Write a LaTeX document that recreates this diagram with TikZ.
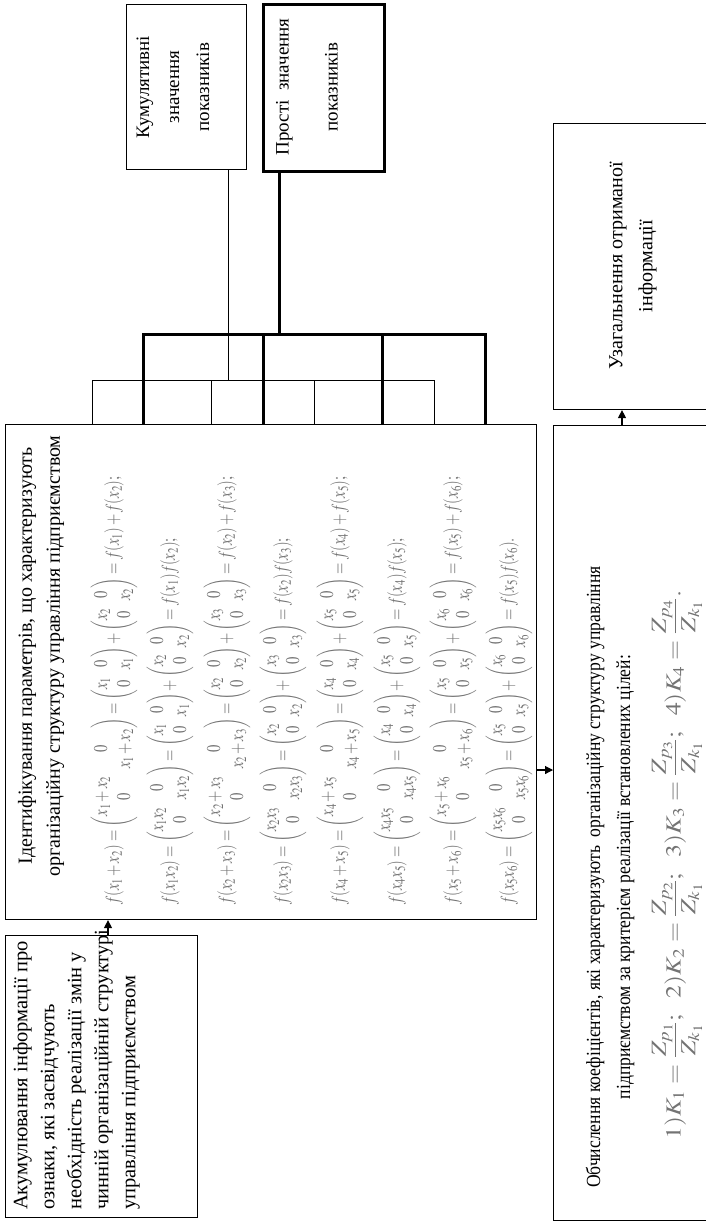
\documentclass[tikz,border=0pt]{standalone}
\usepackage{amsmath}
\usepackage{mathptmx}
\usepackage{fontspec}
\setmainfont{Liberation Serif}
\newfontfamily\tnr{Liberation Serif}
\newfontfamily\condfont[FakeStretch=0.88]{Liberation Serif}
\usetikzlibrary{arrows.meta}
\newcommand\fsz[2]{\fontsize{#1}{#2}\selectfont}
\newcommand\sumrow[3]{\scalebox{0.75}[1]{$f(x_{#1}+x_{#2})=\begin{pmatrix}x_{#1}+x_{#2}&0\\0&x_{#1}+x_{#2}\end{pmatrix}=\begin{pmatrix}x_{#1}&0\\0&x_{#1}\end{pmatrix}+\begin{pmatrix}x_{#2}&0\\0&x_{#2}\end{pmatrix}=f(x_{#1})+f(x_{#2})#3$}}
\newcommand\prodrow[3]{\scalebox{0.75}[1]{$f(x_{#1}x_{#2})=\begin{pmatrix}x_{#1}x_{#2}&0\\0&x_{#1}x_{#2}\end{pmatrix}=\begin{pmatrix}x_{#1}&0\\0&x_{#1}\end{pmatrix}+\begin{pmatrix}x_{#2}&0\\0&x_{#2}\end{pmatrix}=f(x_{#1})f(x_{#2})#3$}}
\begin{document}
\begin{tikzpicture}[x=1pt,y=-1pt,
  box/.style={draw, line width=1.1pt, inner sep=0pt, anchor=north west},
  thickbox/.style={draw, line width=3pt, inner sep=0pt, anchor=north west},
  thinln/.style={line width=1pt},
  thickln/.style={line width=3pt},
  rtxt/.style={rotate=90, inner sep=0pt},
  mrow/.style={rotate=90, inner sep=0pt, anchor=west, text=black!55, font=\fsz{19.5}{23}},
  arr/.style={line width=1.1pt, -{Triangle[length=8pt,width=8pt]}}]
\useasboundingbox (0,0) rectangle (706,1221);
\clip (0,0) rectangle (706,1221);
% boxes
\node[box, minimum width=192pt, minimum height=282pt] (acc) at (5,935) {};
\node[box, minimum width=531pt, minimum height=495pt] (main) at (5,424) {};
\node[box, minimum width=170pt, minimum height=795pt] (obch) at (553,425) {};
\node[box, minimum width=170pt, minimum height=286pt] (uzag) at (553,123) {};
\node[box, minimum width=120pt, minimum height=165pt] (kum) at (126,4) {};
\node[thickbox, minimum width=121pt, minimum height=167pt] (pros) at (262,3) {};
% texts
\node[rtxt, anchor=north west, align=left, font=\tnr\fsz{20.5}{27}] (acct) at (13,1210)
  {Акумулювання інформації про\\ознаки, які засвідчують\\необхідність реалізації змін у\\чинній організаційній структурі\\управління підприємством};
\node[rtxt, align=center, font=\tnr\fsz{20}{28}] (maint) at (41,656)
  {Ідентифікування параметрів, що характеризують\\організаційну структуру управління підприємством};
\node[rtxt, align=center, font=\tnr\fsz{19}{30}] (kumt) at (173,87)
  {Кумулятивні\\значення\\показників};
\node[rtxt, align=center, font=\tnr\fsz{19}{49}] (prost) at (307,87)
  {Прості\ \ значення\\показників};
\node[rtxt, align=center, font=\tnr\fsz{20}{30}] (uzagt) at (633,266)
  {Узагальнення отриманої\\інформації};
\node[rtxt, align=center, font=\condfont\fsz{20}{30}] (obcht) at (610,877)
  {Обчислення коефіцієнтів, які характеризують\ \ організаційну структуру управління\\підприємством за критерієм реалізації встановлених цілей:};
\node[rtxt, text=black!55, font=\fsz{21.5}{25}] (kf) at (677,865)
  {\scalebox{1.2}[1]{$1)K_1=\dfrac{Z_{p_1}}{Z_{k_1}};\ \ 2)K_2=\dfrac{Z_{p_2}}{Z_{k_1}};\ \ 3)K_3=\dfrac{Z_{p_3}}{Z_{k_1}};\ \ 4)K_4=\dfrac{Z_{p_4}}{Z_{k_1}}.$}};
% formula rows
\node[mrow] (r1) at (114,905) {\sumrow{1}{2}{;}};
\node[mrow] (r2) at (170,905) {\prodrow{1}{2}{;}};
\node[mrow] (r3) at (227,905) {\sumrow{2}{3}{;}};
\node[mrow] (r4) at (283,905) {\prodrow{2}{3}{;}};
\node[mrow] (r5) at (340,905) {\sumrow{4}{5}{;}};
\node[mrow] (r6) at (397,905) {\prodrow{4}{5}{;}};
\node[mrow] (r7) at (453,905) {\sumrow{5}{6}{;}};
\node[mrow] (r8) at (509,905) {\prodrow{5}{6}{.}};
% connector lines
\coordinate (tk) at (279,334);
\coordinate (k1) at (228,380);
\coordinate (h1) at (143,334);
\coordinate (h2) at (263,334);
\coordinate (h3) at (382,334);
\coordinate (h4) at (485,334);
\coordinate (t1) at (92,380);
\coordinate (t2) at (211,380);
\coordinate (t3) at (314,380);
\coordinate (t4) at (434,380);
\draw[thinln] (kum.south -| k1) -- (k1);
\draw[thinln] (t1) -- (t4);
\foreach \c in {t1,t2,t3,t4} \draw[thinln] (\c) -- (\c |- main.north);
\draw[thickln] (pros.south -| tk) -- (tk);
\draw[thickln, line cap=rect] (h1) -- (h4);
\foreach \c in {h1,h2,h3,h4} \draw[thickln] (\c) -- (\c |- main.north);
% arrows
\coordinate (a1) at (108,0);
\coordinate (a2) at (0,770);
\coordinate (a3) at (622,0);
\draw[arr] (acc.north -| a1) -- (main.south -| a1);
\draw[arr] (main.east |- a2) -- (obch.west |- a2);
\draw[arr] (obch.north -| a3) -- (uzag.south -| a3);
\end{tikzpicture}
\end{document}
